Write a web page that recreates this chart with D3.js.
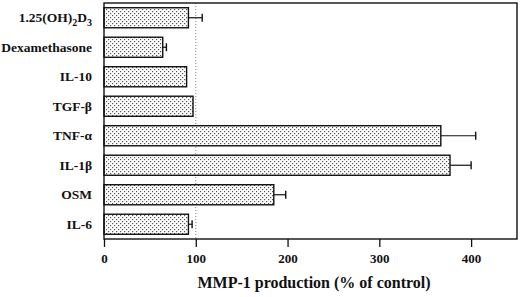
<!DOCTYPE html>
<html lang="en">
<head>
<meta charset="utf-8">
<title>MMP-1 production</title>
<script src="https://cdn.jsdelivr.net/npm/d3@7"></script>
<style>
body { margin: 0; background: #fff; }
.lbl { font-family: "Liberation Serif", "DejaVu Serif", serif; font-weight: bold; fill: #111; }
.axis path, .axis line { stroke: #111; stroke-width: 1.3; }
</style>
</head>
<body>
<script>
// data
var treatments = ["1.25(OH)2D3", "Dexamethasone", "IL-10", "TGF-β", "TNF-α", "IL-1β", "OSM", "IL-6"];
var meanValues = [92, 64, 90, 97, 367, 377, 185, 92];
var errValues  = [15, 4, 0, 0, 38, 23, 13, 4];
var xTicks = [0, 100, 200, 300, 400];

var margin = {top: 3, right: 3, bottom: 58, left: 104},
    W = 520, H = 297,
    w = W - margin.left - margin.right,
    h = H - margin.top - margin.bottom;

var svg = d3.select("body").append("svg")
    .attr("width", W).attr("height", H);

// stipple fill
var defs = svg.append("defs");
var pat = defs.append("pattern")
    .attr("id", "dots")
    .attr("patternUnits", "userSpaceOnUse")
    .attr("width", 4).attr("height", 4);
pat.append("rect").attr("width", 4).attr("height", 4).attr("fill", "#fff");
pat.append("rect").attr("x", 0).attr("y", 0).attr("width", 1.2).attr("height", 1.2).attr("fill", "#555");
pat.append("rect").attr("x", 2).attr("y", 2).attr("width", 1.2).attr("height", 1.2).attr("fill", "#555");

var g = svg.append("g")
    .attr("transform", "translate(" + margin.left + "," + margin.top + ")");

var x = d3.scaleLinear().domain([0, 450]).range([0, w]);
var y = d3.scaleBand().domain(treatments).range([0, h]).paddingInner(0.32).paddingOuter(0.16);

function idx(d) { return treatments.indexOf(d); }
function mid(d) { return y(d) + y.bandwidth() / 2; }

// dotted reference line at 100%
g.append("line")
    .attr("x1", x(100)).attr("x2", x(100))
    .attr("y1", 0).attr("y2", h)
    .attr("stroke", "#666").attr("stroke-width", 0.8)
    .attr("stroke-dasharray", "1,2");

// error bars (only where an error was drawn)
var withErr = treatments.filter(function(d) { return errValues[idx(d)] > 0; });
var eb = g.selectAll(".err").data(withErr).enter().append("g").attr("class", "err");
eb.append("line")
    .attr("x1", function(d) { return x(meanValues[idx(d)]); })
    .attr("x2", function(d) { return x(meanValues[idx(d)] + errValues[idx(d)]); })
    .attr("y1", mid).attr("y2", mid)
    .attr("stroke", "#111").attr("stroke-width", 1.2);
eb.append("line")
    .attr("x1", function(d) { return x(meanValues[idx(d)] + errValues[idx(d)]); })
    .attr("x2", function(d) { return x(meanValues[idx(d)] + errValues[idx(d)]); })
    .attr("y1", function(d) { return mid(d) - 4; })
    .attr("y2", function(d) { return mid(d) + 4; })
    .attr("stroke", "#111").attr("stroke-width", 1.4);

// bars
g.selectAll(".bar").data(treatments).enter().append("rect")
    .attr("class", "bar")
    .attr("x", x(0))
    .attr("y", function(d) { return y(d); })
    .attr("width", function(d) { return x(meanValues[idx(d)]) - x(0); })
    .attr("height", y.bandwidth())
    .attr("fill", "url(#dots)")
    .attr("stroke", "#111").attr("stroke-width", 1.4);

// frame
g.append("rect")
    .attr("x", 0).attr("y", 0).attr("width", w).attr("height", h)
    .attr("fill", "none").attr("stroke", "#111").attr("stroke-width", 1.4);

// x axis
var xAxis = g.append("g")
    .attr("class", "axis")
    .attr("transform", "translate(0," + h + ")")
    .call(d3.axisBottom(x).tickValues(xTicks).tickSize(8).tickSizeOuter(0));
xAxis.select(".domain").remove();
xAxis.selectAll("text")
    .attr("class", "lbl")
    .attr("font-size", "13px")
    .attr("dy", "1.0em");

// category labels
var lab = g.selectAll(".cat").data(treatments).enter().append("text")
    .attr("class", "lbl")
    .attr("x", -12)
    .attr("y", mid)
    .attr("dy", "0.35em")
    .attr("text-anchor", "end")
    .attr("font-size", "13.5px");
lab.each(function(d) {
    var t = d3.select(this);
    if (d === "1.25(OH)2D3") {
        t.append("tspan").text("1.25(OH)");
        t.append("tspan").text("2").attr("font-size", "10px").attr("dy", "4");
        t.append("tspan").text("D").attr("dy", "-4");
        t.append("tspan").text("3").attr("font-size", "10px").attr("dy", "4");
    } else {
        t.text(d);
    }
});

// axis title
g.append("text")
    .attr("class", "lbl")
    .attr("x", x(0) + 210)
    .attr("y", h + 49)
    .attr("text-anchor", "middle")
    .attr("font-size", "16px")
    .text("MMP-1 production (% of control)");
</script>
</body>
</html>
